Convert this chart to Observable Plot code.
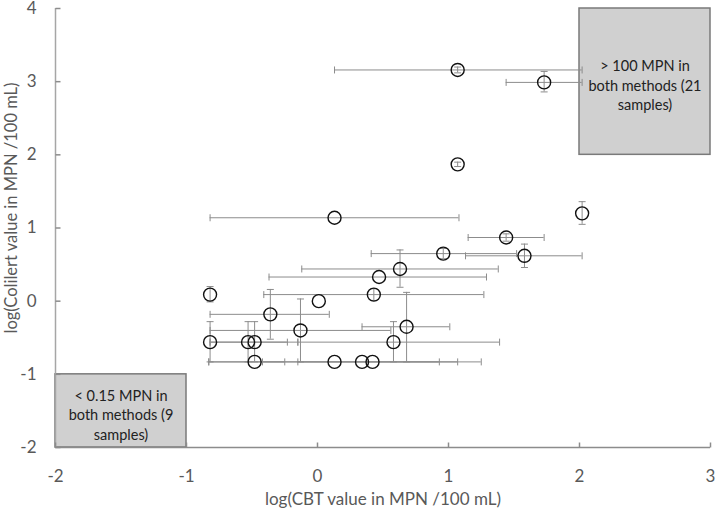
<!DOCTYPE html>
<html>
<head>
<meta charset="utf-8">
<script src="https://cdn.jsdelivr.net/npm/d3@7"></script>
<script src="https://cdn.jsdelivr.net/npm/@observablehq/plot@0.6"></script>
<style>
  html, body { margin: 0; padding: 0; background: #fff; }
  #chart svg { display: block; }
</style>
</head>
<body>
<div id="chart"></div>
<script>
// Data (log10 MPN/100 mL)
const cbt       = [1.07, 1.73, 1.07, 0.13, 2.02, 1.44, 0.96, 1.58, 0.63, 0.47, -0.82, 0.43, 0.01, -0.36, -0.13, 0.68, -0.82, -0.53, -0.48, 0.58, -0.48, 0.13, 0.34, 0.42];
const colilert  = [3.16, 2.99, 1.87, 1.14, 1.20, 0.87, 0.65, 0.62, 0.44, 0.33, 0.09, 0.09, 0.00, -0.18, -0.40, -0.35, -0.56, -0.56, -0.56, -0.56, -0.83, -0.83, -0.83, -0.83];
const cbtLow    = [0.13, 1.44, null, -0.82, null, 1.15, 0.41, 1.13, -0.12, -0.37, null, -0.41, null, -0.82, -0.82, 0.34, -0.82, -0.82, null, -0.15, -0.83, -0.42, -0.15, -0.83];
const cbtHigh   = [2.02, 2.02, null, 1.08, null, 1.73, 1.52, 2.02, 1.38, 1.29, null, 1.27, null, 0.09, 0.56, 1.01, -0.23, -0.15, null, 1.39, -0.25, 0.93, 1.07, 1.25];
const colLow    = [3.12, 2.86, 1.84, null, 1.05, 0.82, 0.58, 0.46, 0.19, null, -0.01, 0.01, null, -0.52, -0.83, -0.83, -0.83, -0.83, -0.83, -0.83, null, null, null, null];
const colHigh   = [3.20, 3.14, 1.90, null, 1.36, 0.92, 0.72, 0.78, 0.70, null, 0.20, 0.17, null, 0.16, 0.03, 0.12, -0.28, -0.28, -0.28, -0.28, null, null, null, null];

// Annotation boxes
const boxX1 = [-2, 2];
const boxX2 = [-1, 3];
const boxY1 = [-2, 2];
const boxY2 = [-1, 4];
const boxLabels = ["< 0.15 MPN in\nboth methods (9\nsamples)", "> 100 MPN in\nboth methods (21\nsamples)"];

const xTicks = [-2, -1, 0, 1, 2, 3];
const yTicks = [-2, -1, 0, 1, 2, 3, 4];
const xTitle = "log(CBT value in MPN /100 mL)";
const yTitle = "log(Colilert value in MPN /100 mL)";

const rows = cbt.map((x, i) => ({x, y: colilert[i], xlo: cbtLow[i], xhi: cbtHigh[i], ylo: colLow[i], yhi: colHigh[i]}));
const xErr = rows.filter(d => d.xlo != null);
const yErr = rows.filter(d => d.ylo != null);
const boxes = boxX1.map((x1, i) => ({x1, x2: boxX2[i], y1: boxY1[i], y2: boxY2[i], label: boxLabels[i]}));

const vCap = {draw(ctx, size) { const r = Math.sqrt(size / Math.PI); ctx.moveTo(0, -r); ctx.lineTo(0, r); }};
const hCap = {draw(ctx, size) { const r = Math.sqrt(size / Math.PI); ctx.moveTo(-r, 0); ctx.lineTo(r, 0); }};
const upTick = {draw(ctx, size) { const r = Math.sqrt(size / Math.PI); ctx.moveTo(0, 0); ctx.lineTo(0, -r); }};
const rightTick = {draw(ctx, size) { const r = Math.sqrt(size / Math.PI); ctx.moveTo(0, 0); ctx.lineTo(r, 0); }};

const font = "Lato, 'Open Sans', sans-serif";
const errColor = "#8c8c8c";
const fmt = d => String(d);

const chart = Plot.plot({
  width: 717,
  height: 511,
  marginLeft: 55,
  marginRight: 7,
  marginTop: 8,
  marginBottom: 64,
  style: {fontFamily: font, background: "#fff"},
  x: {domain: [xTicks[0], xTicks[xTicks.length - 1]]},
  y: {domain: [yTicks[0], yTicks[yTicks.length - 1]]},
  marks: [
    Plot.rect(boxes, {x1: "x1", x2: "x2", y1: "y1", y2: "y2", fill: "#d0d0d0", stroke: "#7a7a7a", strokeWidth: 1.5}),
    Plot.text(boxes, {x: d => (d.x1 + d.x2) / 2, y: d => (d.y1 + d.y2) / 2, text: "label", fontSize: 14.5, lineHeight: 1.35, fill: "#222", dy: 3}),
    // axis lines
    Plot.ruleX([xTicks[0]], {stroke: "#a6a6a6", strokeWidth: 1.5}),
    Plot.ruleY([yTicks[0]], {stroke: "#8c8c8c", strokeWidth: 1.5}),
    // inward ticks
    Plot.dot(xTicks, {x: d => d, y: () => yTicks[0], symbol: upTick, r: 5, stroke: "#8c8c8c"}),
    Plot.dot(yTicks, {x: () => xTicks[0], y: d => d, symbol: rightTick, r: 5, stroke: "#8c8c8c"}),
    // error bars
    Plot.ruleY(xErr, {y: "y", x1: "xlo", x2: "xhi", stroke: errColor, strokeWidth: 1}),
    Plot.dot(xErr.flatMap(d => [{x: d.xlo, y: d.y}, {x: d.xhi, y: d.y}]), {x: "x", y: "y", symbol: vCap, r: 3.5, stroke: errColor, strokeWidth: 1}),
    Plot.ruleX(yErr, {x: "x", y1: "ylo", y2: "yhi", stroke: errColor, strokeWidth: 1}),
    Plot.dot(yErr.flatMap(d => [{x: d.x, y: d.ylo}, {x: d.x, y: d.yhi}]), {x: "x", y: "y", symbol: hCap, r: 3.5, stroke: errColor, strokeWidth: 1}),
    // points
    Plot.dot(rows, {x: "x", y: "y", r: 6.5, stroke: "#111", strokeWidth: 1.4, fill: "none"}),
    // axes
    Plot.axisX({ticks: xTicks, tickFormat: fmt, tickSize: 0, tickPadding: 22, fontSize: 17, color: "#595959", label: null}),
    Plot.axisY({ticks: yTicks, tickFormat: fmt, tickSize: 0, tickPadding: 19, fontSize: 17, color: "#595959", label: null}),
    Plot.text([xTitle], {frameAnchor: "bottom", dy: 57, text: d => d, fontSize: 17, fill: "#595959"}),
    Plot.text([yTitle], {frameAnchor: "left", textAnchor: "middle", dx: -44, dy: -20, rotate: -90, text: d => d, fontSize: 16.5, fill: "#595959"})
  ]
});
document.getElementById("chart").append(chart);
</script>
</body>
</html>
